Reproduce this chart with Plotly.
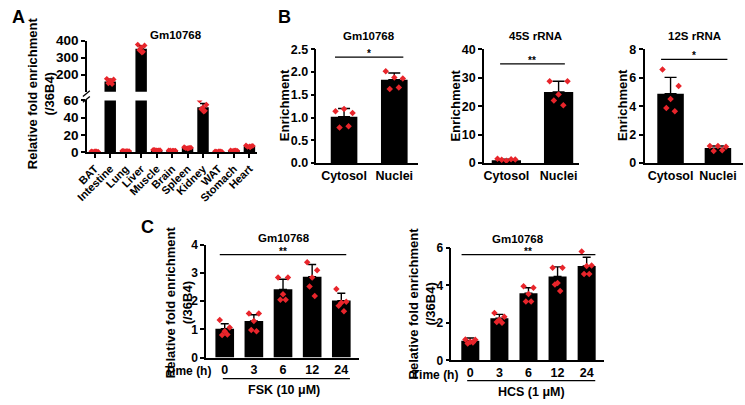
import plotly.graph_objects as go

# ---------------- data ----------------
tissues = ["BAT", "Intestine", "Lung", "Liver", "Muscle", "Brain", "Spleen",
           "Kidney", "WAT", "Stomach", "Heart"]
tissue_mean = [1.0, 160, 1.5, 352, 2.5, 2.0, 5.2, 52, 1.0, 2.0, 7.0]
tissue_sd = [0.2, 14, 0.3, 18, 0.4, 0.3, 0.7, 4.5, 0.2, 0.3, 0.8]
tissue_dots = [
    [1.2, 0.9, 1.0, 0.8, 1.1, 1.0],
    [176, 172, 165, 150, 145, 158],
    [1.8, 1.5, 1.2, 1.6, 1.4, 1.5],
    [377, 372, 360, 345, 335, 330],
    [3.0, 2.5, 2.2, 2.8, 2.4, 2.1],
    [2.3, 1.9, 1.7, 2.2, 2.0, 1.9],
    [6.0, 5.5, 4.5, 5.0, 5.2, 4.8],
    [60, 55, 52, 50, 48, 47],
    [1.2, 0.9, 1.0, 0.8, 1.1, 1.0],
    [2.3, 1.8, 2.0, 1.6, 2.2, 2.1],
    [8.0, 7.5, 6.8, 6.5, 7.2, 6.0],
]

fractions = ["Cytosol", "Nuclei"]
gm_mean = [1.02, 1.83]
gm_sd = [0.18, 0.15]
gm_dots = [[1.14, 1.10, 1.19, 0.78, 0.81], [2.02, 1.86, 1.88, 1.63, 1.66]]
s45_mean = [1.0, 25.0]
s45_sd = [0.35, 3.8]
s45_dots = [[1.5, 1.2, 0.8, 1.1, 1.3], [28.8, 28.8, 24.1, 22.0, 20.3]]
s12_mean = [4.88, 1.05]
s12_sd = [1.15, 0.15]
s12_dots = [[6.58, 5.42, 4.50, 3.88, 3.65], [1.20, 1.15, 1.20, 0.85, 0.90]]

times = ["0", "3", "6", "12", "24"]
fsk_mean = [1.02, 1.30, 2.42, 2.87, 2.02]
fsk_sd = [0.18, 0.22, 0.36, 0.43, 0.26]
fsk_dots = [[1.33, 1.07, 0.93, 0.80, 0.82], [1.56, 1.56, 1.30, 0.98, 0.93],
            [2.84, 2.84, 2.25, 2.05, 2.05], [3.38, 3.10, 2.84, 2.52, 2.18],
            [2.43, 1.98, 1.94, 1.84, 1.64]]
hcs_mean = [1.05, 2.25, 3.58, 4.47, 5.03]
hcs_sd = [0.14, 0.20, 0.29, 0.51, 0.46]
hcs_dots = [[1.12, 1.10, 1.00, 0.90, 0.95], [2.52, 2.33, 2.16, 2.05, 2.00],
            [3.95, 3.87, 3.53, 3.14, 3.14], [4.93, 4.93, 4.12, 4.04, 3.70],
            [5.80, 5.06, 5.03, 4.60, 4.60]]

sig_gm, sig_45, sig_12, sig_fsk, sig_hcs = 2.33, 34.9, 7.3, 3.65, 5.63

# ---------------- styling helpers ----------------
W, H = 745, 405
RED = "#e8252b"
FONT = "Liberation Sans"


def fx(p):
    return p / W


def fy(p):
    return 1 - p / H


fig = go.Figure()

spread6 = [-0.22, 0.22, 0.0, -0.12, 0.12, 0.05]
spread5 = [-0.17, 0.17, 0.0, -0.09, 0.09]


def add_group(xn, yn, cats, means, sd, dots, bw, cap, spread, msize=5):
    xs = list(range(len(cats)))
    fig.add_trace(go.Bar(
        x=xs, y=means, width=bw,
        marker=dict(color="black", line=dict(width=0)),
        error_y=dict(type="data", array=sd, arrayminus=[0] * len(sd),
                     symmetric=False, color="black", thickness=1.4, width=cap),
        xaxis=xn, yaxis=yn, showlegend=False, hoverinfo="skip"))
    dx, dy = [], []
    for i, vals in enumerate(dots):
        for j, v in enumerate(vals):
            dx.append(i + spread[j % len(spread)])
            dy.append(v)
    fig.add_trace(go.Scatter(
        x=dx, y=dy, mode="markers",
        marker=dict(symbol="diamond", size=msize, color=RED, line=dict(width=0)),
        xaxis=xn, yaxis=yn, showlegend=False, hoverinfo="skip"))


# Panel A (two segments of a broken axis)
add_group("x", "y", tissues, tissue_mean, tissue_sd, tissue_dots, 0.74, 3, spread6, 4.5)
add_group("x2", "y2", tissues, tissue_mean, tissue_sd, tissue_dots, 0.74, 3, spread6, 4.5)
# Panel B
add_group("x3", "y3", fractions, gm_mean, gm_sd, gm_dots, 0.53, 6, spread5, 5)
add_group("x4", "y4", fractions, s45_mean, s45_sd, s45_dots, 0.56, 6, spread5, 5)
add_group("x5", "y5", fractions, s12_mean, s12_sd, s12_dots, 0.56, 6, spread5, 5)
# Panel C
add_group("x6", "y6", times, fsk_mean, fsk_sd, fsk_dots, 0.64, 4, spread5, 5)
add_group("x7", "y7", times, hcs_mean, hcs_sd, hcs_dots, 0.62, 4, spread5, 5)

tick_font = dict(family=FONT, size=12, color="black", weight="bold")


def yax(domain_px, rng, tickvals, anchor, size=12, fmt=None):
    d = dict(domain=[fy(domain_px[0]), fy(domain_px[1])], range=rng,
             tickvals=tickvals, anchor=anchor, showline=True, linecolor="black",
             linewidth=1.5, ticks="outside", ticklen=4, tickwidth=1.5,
             tickcolor="black", showgrid=False, zeroline=False,
             tickfont=dict(tick_font, size=size), fixedrange=True)
    if fmt:
        d["tickformat"] = fmt
    return d


def xax(domain_px, rng, cats, anchor, size=12.5, angle=0, ticks="", visible=True):
    return dict(domain=[fx(domain_px[0]), fx(domain_px[1])], range=rng,
                tickvals=list(range(len(cats))), ticktext=cats, anchor=anchor,
                showline=visible, linecolor="black", linewidth=1.5,
                ticks=ticks, ticklen=4, tickwidth=1.5, tickcolor="black",
                showticklabels=visible, tickangle=angle, showgrid=False,
                zeroline=False, tickfont=dict(tick_font, size=size), fixedrange=True)


layout = dict(
    width=W, height=H, margin=dict(l=0, r=0, t=0, b=0),
    plot_bgcolor="white", paper_bgcolor="white", showlegend=False,
    font=dict(family=FONT, color="black"),
    xaxis=xax([77, 250], [-0.51, 10.51], tissues, "y", visible=False),
    yaxis=yax([88, 35], [100, 400], [200, 300, 400], "x", size=13.5),
    xaxis2=xax([77, 250], [-0.51, 10.51], tissues, "y2", size=11, angle=-45, ticks="outside"),
    yaxis2=yax([151, 97], [0, 60], [0, 20, 40, 60], "x2", size=13.5),
    xaxis3=xax([310, 413], [-0.55, 1.47], fractions, "y3"),
    yaxis3=yax([162, 44], [0, 2.5], [0, 0.5, 1.0, 1.5, 2.0, 2.5], "x3", size=12.5, fmt=".1f"),
    xaxis4=xax([480, 577], [-0.43, 1.4], fractions, "y4"),
    yaxis4=yax([162, 44], [0, 40], [0, 10, 20, 30, 40], "x4", size=12.5),
    xaxis5=xax([643, 743], [-0.55, 1.53], fractions, "y5"),
    yaxis5=yax([162, 44], [0, 8], [0, 2, 4, 6, 8], "x5", size=12.5),
    xaxis6=xax([198, 353], [-0.64, 4.6], times, "y6"),
    yaxis6=yax([364, 247], [0, 4], [0, 1, 2, 3, 4], "x6"),
    xaxis7=xax([447, 602], [-0.65, 4.6], times, "y7"),
    yaxis7=yax([367, 250], [0, 6], [0, 2, 4, 6], "x7"),
)
fig.update_layout(**layout)

ann = []
shapes = []


def text(x, y, s, size=11, angle=0, xanchor="center", yanchor="middle"):
    ann.append(dict(x=fx(x), y=fy(y), xref="paper", yref="paper", text=s,
                    showarrow=False, textangle=angle, xanchor=xanchor,
                    yanchor=yanchor,
                    font=dict(family=FONT, size=size, color="black", weight="bold")))


# panel letters
text(8, 10, "A", 18)
text(278, 10, "B", 18)
text(139, 228, "C", 18)

# titles
text(167, 29, "Gm10768", 11.5)
text(363, 30, "Gm10768", 11.5)
text(532, 30, "45S rRNA", 11.5)
text(694, 30, "12S rRNA", 11.5)
text(277, 240, "Gm10768", 11.5)
text(515, 241, "Gm10768", 11.5)

# y titles
text(30, 90, "Relative fold enrichment<br>(/36B4)", 13, -90)
text(277, 102, "Enrichment", 13, -90)
text(451, 102, "Enrichment", 13, -90)
text(620, 102, "Enrichment", 13, -90)
text(170, 306, "Relative fold enrichment<br>(/36B4)", 13, -90)
text(417, 308, "Relative fold enrichment<br>(/36B4)", 13, -90)

# Time labels and treatment labels
text(180, 378, "Time (h)", 12)
text(430, 382, "Time (h)", 12)
text(277, 398, "FSK (10 μM)", 12.5)
text(528, 400, "HCS (1 μM)", 12.5)
shapes.append(dict(type="line", xref="paper", yref="paper", x0=fx(215), x1=fx(344),
                   y0=fy(386), y1=fy(386), line=dict(color="black", width=1.3)))
shapes.append(dict(type="line", xref="paper", yref="paper", x0=fx(463), x1=fx(593),
                   y0=fy(388), y1=fy(388), line=dict(color="black", width=1.3)))

# axis break marks in panel A
for yb in (90, 96):
    shapes.append(dict(type="line", xref="paper", yref="paper", x0=fx(73), x1=fx(80),
                       y0=fy(yb + 3), y1=fy(yb - 3), line=dict(color="black", width=1.3)))


# significance lines
def sig(xn, yn, n, level, stars, ext):
    shapes.append(dict(type="line", xref=xn, yref=yn, x0=-ext, x1=n - 1 + ext,
                       y0=level, y1=level, line=dict(color="black", width=1.3)))
    ann.append(dict(x=(n - 1) / 2, y=level, xref=xn, yref=yn, text=stars,
                    showarrow=False, yanchor="bottom", yshift=-4,
                    font=dict(family=FONT, size=10, color="black", weight="bold")))


sig("x3", "y3", 2, sig_gm, "*", 0.18)
sig("x4", "y4", 2, sig_45, "**", 0.12)
sig("x5", "y5", 2, sig_12, "*", 0.2)
sig("x6", "y6", 5, sig_fsk, "**", 0.17)
sig("x7", "y7", 5, sig_hcs, "**", 0.3)

fig.update_layout(annotations=ann, shapes=shapes)
fig.write_html("out.html", config={"displayModeBar": False},
               post_script="document.body.style.margin='0px';")
